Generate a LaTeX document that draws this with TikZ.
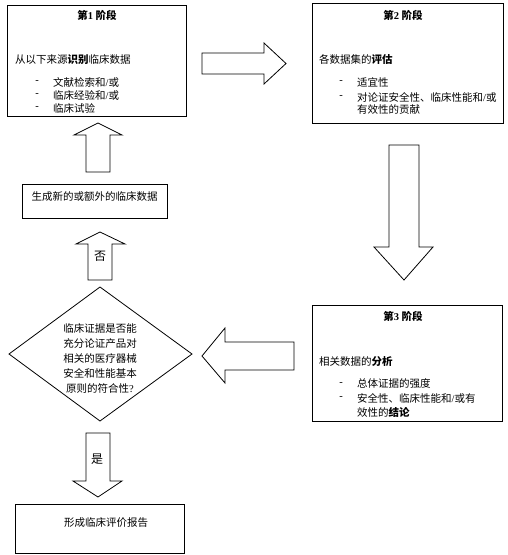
\documentclass[tikz,border=0pt]{standalone}
\usepackage{fontspec}
\setmainfont{Liberation Serif}
\newfontfamily\cjk{Noto Sans CJK SC}
\begin{document}
\begin{tikzpicture}[x=1pt,y=-1pt,
  font=\cjk\fontsize{10.5}{13}\selectfont,
  box/.style={draw,line width=0.8pt,inner sep=0pt,anchor=north west},
  fat/.style={draw,line width=0.8pt,fill=white,line join=miter},
  txt/.style={inner sep=0pt,anchor=west},
  ttl/.style={inner sep=0pt,font=\cjk\bfseries\fontsize{10.5}{13}\selectfont},
  dsh/.style={inner sep=0pt,font=\rmfamily\fontsize{10.5}{13}\selectfont},
  lbl/.style={inner sep=0pt,font=\cjk\fontsize{12}{14}\selectfont}]
\useasboundingbox (0,0) rectangle (508,555);
% stage 1
\node[box,minimum width=179pt,minimum height=111pt] (s1) at (7,5) {};
\node[ttl] (s1t) at (97,15) {第{\rmfamily 1} 阶段};
\node[txt] (s1h) at (15,60) {从以下来源{\bfseries 识别}临床数据};
\node[dsh] (s1d1) at (37,82) {-};
\node[dsh] (s1d2) at (37,95) {-};
\node[dsh] (s1d3) at (37,108) {-};
\node[txt] (s1a) at (53,82) {文献检索和{\rmfamily /}或};
\node[txt] (s1b) at (53,95) {临床经验和{\rmfamily /}或};
\node[txt] (s1c) at (53,108) {临床试验};
% stage 2
\node[box,minimum width=191pt,minimum height=120pt] (s2) at (312,3) {};
\node[ttl] (s2t) at (403,15) {第{\rmfamily 2} 阶段};
\node[txt] (s2h) at (319,60) {各数据集的{\bfseries 评估}};
\node[dsh] (s2d1) at (341,82) {-};
\node[dsh] (s2d2) at (341,97) {-};
\node[txt] (s2a) at (357,82) {适宜性};
\node[txt] (s2b) at (357,97) {对论证安全性、临床性能和{\rmfamily /}或};
\node[txt] (s2c) at (357,110) {有效性的贡献};
% stage 3
\node[box,minimum width=190pt,minimum height=116pt] (s3) at (312,305) {};
\node[ttl] (s3t) at (403,316) {第{\rmfamily 3} 阶段};
\node[txt] (s3h) at (319,362) {相关数据的{\bfseries 分析}};
\node[dsh] (s3d1) at (341,384) {-};
\node[dsh] (s3d2) at (341,398) {-};
\node[txt] (s3a) at (357,384) {总体证据的强度};
\node[txt] (s3b) at (357,398) {安全性、临床性能和{\rmfamily /}或有};
\node[txt] (s3c) at (357,412) {效性的{\bfseries 结论}};
% new data box
\node[box,minimum width=145pt,minimum height=34pt] (nd) at (22,184) {};
\node[inner sep=0pt] (ndt) at (94.5,197) {生成新的或额外的临床数据};
% decision diamond
\draw[line width=0.8pt] (100,287) coordinate (qn) -- (192,354) coordinate (qe)
  -- (100,421) coordinate (qs) -- (9,354) coordinate (qw) -- cycle;
\node[inner sep=0pt,align=center,font=\cjk\fontsize{10.5}{15}\selectfont] (q) at (100,358)
  {临床证据是否能\\充分论证产品对\\相关的医疗器械\\安全和性能基本\\原则的符合性{\rmfamily ?}};
% report box
\node[box,minimum width=169pt,minimum height=49pt] (rp) at (15,504) {};
\node[inner sep=0pt] (rpt) at (106,523) {形成临床评价报告};
% block arrows
\draw[fat] (202,53) -- (264,53) -- (264,43) -- (286,63.5) -- (264,84) -- (264,74) -- (202,74) -- cycle;
\draw[fat] (389,145) -- (419,145) -- (419,247) -- (433,247) -- (404,280) -- (374,247) -- (389,247) -- cycle;
\draw[fat] (294,342) -- (225,342) -- (225,328) -- (202,356) -- (225,383) -- (225,370) -- (294,370) -- cycle;
\draw[fat] (86,172) -- (86,135) -- (74,135) -- (98,123) -- (122,135) -- (110,135) -- (110,172) -- cycle;
\draw[fat] (88,280) -- (88,244) -- (76,244) -- (100,232) -- (125,244) -- (112,244) -- (112,280) -- cycle;
\node[lbl] (no) at (100,256) {否};
\draw[fat] (86,433) -- (110,433) -- (110,481) -- (122,481) -- (98,497) -- (73,481) -- (86,481) -- cycle;
\node[lbl] (yes) at (97,459) {是};
\end{tikzpicture}
\end{document}
